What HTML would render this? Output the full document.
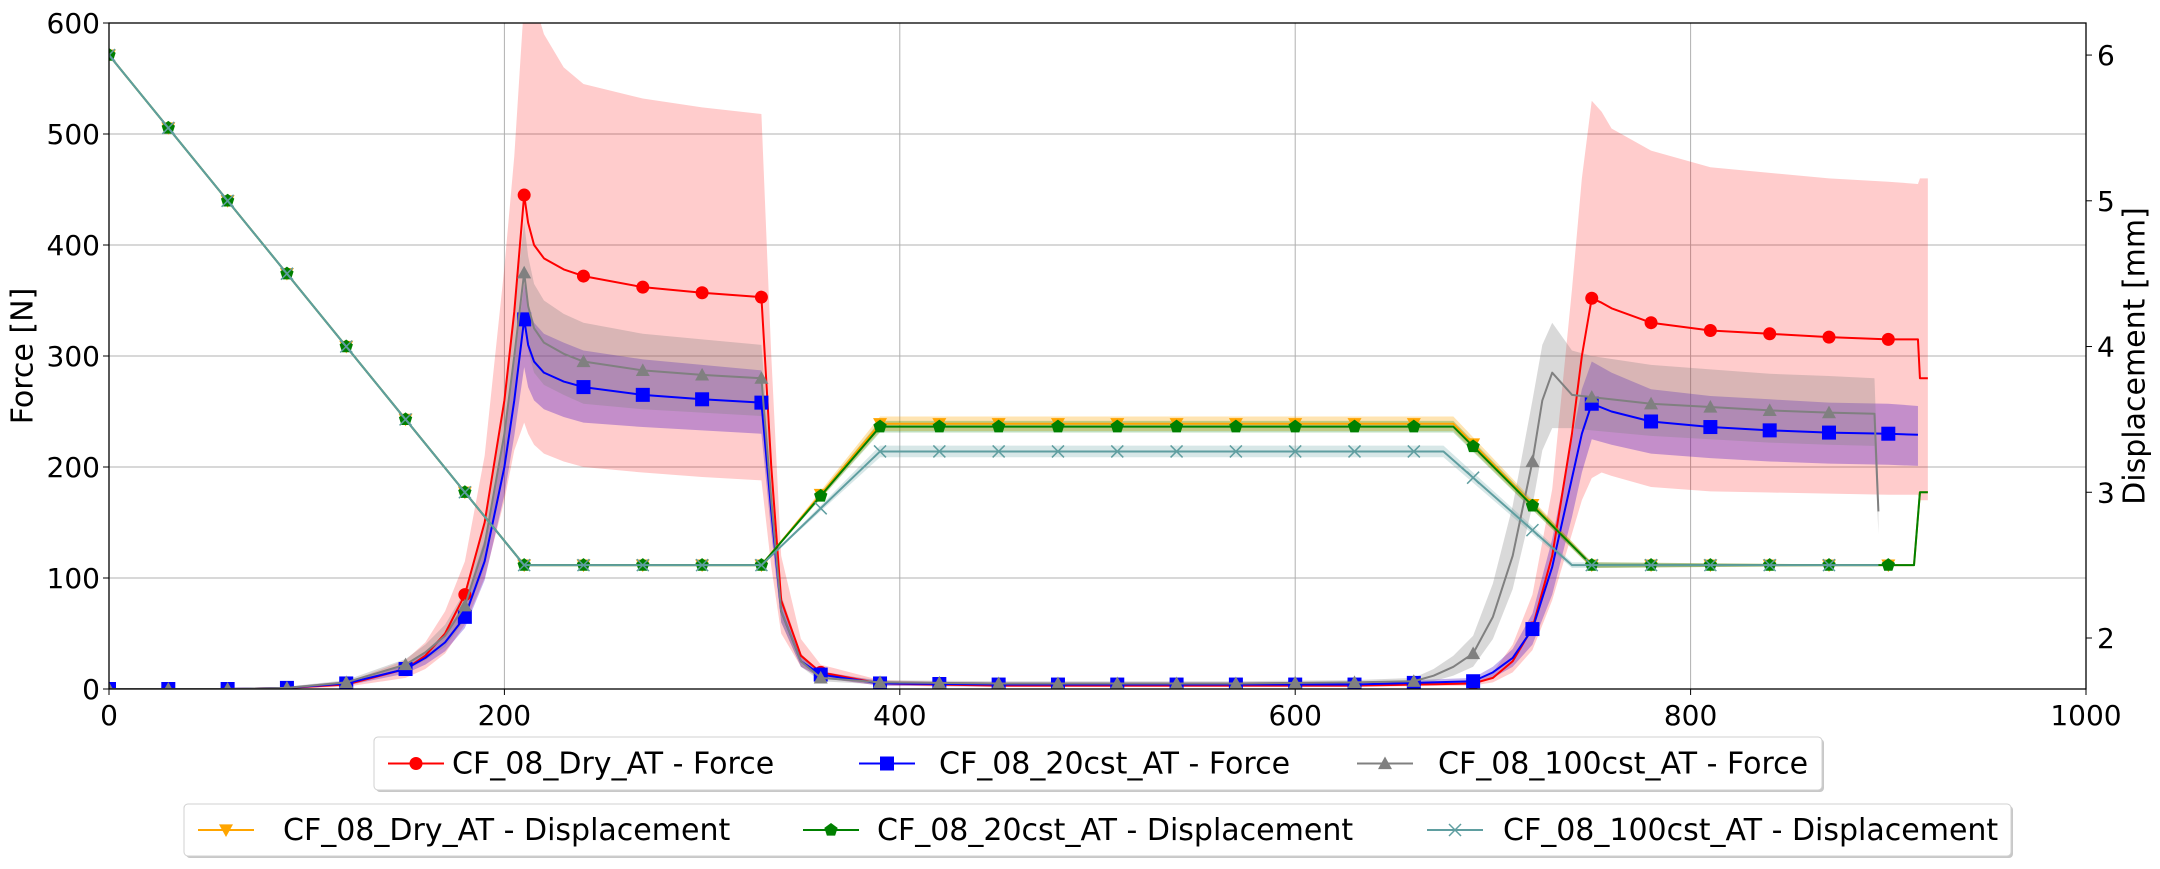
<!DOCTYPE html>
<html><head><meta charset="utf-8"><style>
html,body{margin:0;padding:0;background:#fff;}
svg text{font-family:"DejaVu Sans","Liberation Sans",sans-serif;}
</style></head><body>
<svg id="chart" width="2160" height="864" viewBox="0 0 2160 864" xmlns="http://www.w3.org/2000/svg"></svg>
<script>
// ---- data ----
const xTicks=[0,200,400,600,800,1000];
const yTicksF=[0,100,200,300,400,500,600];
const yTicksD=[2,3,4,5,6];
// Force series
const tDry=[0,30,60,90,120,150,160,170,180,190,200,205,210,212,215,220,230,240,270,300,330,335,340,350,360,390,450,510,570,630,690,700,710,720,730,740,745,750,755,760,780,810,840,870,900,915,916,920];
const fDry=[0,0,0,1,4,18,30,50,85,150,260,340,445,420,400,388,378,372,362,357,353,200,80,30,15,5,3,3,3,3,5,10,25,55,120,230,300,352,348,343,330,323,320,317,315,315,280,280];
const fDryLo=[0,0,0,0,2,10,18,32,58,100,170,215,240,230,220,212,205,200,195,191,188,110,50,20,10,3,2,2,2,2,3,6,15,35,80,140,170,190,195,192,182,178,177,176,175,175,170,170];
const fDryHi=[0,0,0,2,6,26,42,70,115,210,380,480,620,640,620,590,560,545,532,524,518,300,120,45,22,8,5,5,5,5,8,15,40,85,180,360,460,530,520,505,485,470,465,460,457,455,460,460];
const t20=[0,30,60,90,120,150,160,170,180,190,200,205,210,212,215,220,230,240,270,300,330,335,340,350,360,390,450,510,570,630,690,700,710,720,730,740,745,750,760,780,810,840,870,900,915];
const f20=[0,0,0,1,5,18,28,42,65,115,200,260,333,310,295,285,277,272,265,261,258,160,70,25,13,5,4,4,4,4,7,15,28,54,110,190,230,257,250,241,236,233,231,230,229];
const f20Lo=[0,0,0,0,3,14,22,34,55,98,175,228,290,272,260,252,245,240,236,233,230,140,60,20,10,3,2,2,2,2,4,10,20,40,85,155,195,225,220,212,208,205,203,202,201];
const f20Hi=[0,0,0,2,7,22,34,50,78,135,228,295,365,345,330,320,312,305,297,292,287,180,80,30,16,7,6,6,6,6,10,20,36,68,135,225,270,295,285,270,264,261,258,257,255];
const t100=[0,30,60,90,120,150,160,170,180,190,200,205,210,212,215,220,230,240,270,300,330,335,340,350,360,390,450,510,570,630,660,670,680,690,700,710,720,725,730,740,750,780,810,840,870,893,895];
const f100=[0,0,0,1,6,22,33,48,75,130,230,300,375,345,325,312,302,295,287,283,280,170,70,25,10,6,5,5,5,6,7,12,20,32,65,120,205,260,285,265,263,257,254,251,249,248,160];
const f100Lo=[0,0,0,0,4,17,26,38,62,110,200,262,330,305,285,274,265,257,252,249,246,150,60,20,7,4,3,3,3,4,4,7,12,20,45,90,165,215,235,235,233,228,225,222,220,219,140];
const f100Hi=[0,0,0,2,8,27,40,58,88,150,265,345,420,390,365,350,338,330,320,315,310,195,85,32,14,8,7,7,7,8,10,18,30,48,95,165,260,310,330,305,300,292,288,284,282,280,180];
// Displacement series [mm]
const tD=[0,210,330,390,680,750,913,916,920];
const dDry=[6,2.5,2.5,3.47,3.47,2.5,2.5,3.0,3.0];
const dDryHalf=[0,0,0,0.05,0.05,0.02,0,0,0];
const d20=[6,2.5,2.5,3.45,3.45,2.5,2.5,3.0,3.0];
const d20Half=[0,0,0,0.04,0.04,0.02,0,0,0];
const tD100=[0,210,330,390,675,740,893,895];
const d100=[6,2.5,2.5,3.28,3.28,2.5,2.5,2.5];
const d100Half=[0,0,0,0.04,0.04,0.02,0,0];

// ---- axes ----
const L=109,R=2086,T=23,B=689;
const X=t=>L+t*(R-L)/1000;
const YF=v=>B-v*(B-T)/600;
const YD=d=>B-(d-1.65)*(B-T)/(6.22-1.65);
const NS="http://www.w3.org/2000/svg";
const svg=document.getElementById('chart');
function el(tag,attrs,parent){const e=document.createElementNS(NS,tag);for(const k in attrs)e.setAttribute(k,attrs[k]);(parent||svg).appendChild(e);return e;}
function txt(s,attrs,parent){const e=el('text',attrs,parent);e.textContent=s;return e;}

const grid=el('g',{});


xTicks.forEach(t=>{el('line',{x1:X(t),x2:X(t),y1:T,y2:B,stroke:'#b0b0b0','stroke-width':1},grid);});
yTicksF.forEach(v=>{el('line',{x1:L,x2:R,y1:YF(v),y2:YF(v),stroke:'#b0b0b0','stroke-width':1},grid);});

const clip=el('clipPath',{id:'pc'});el('rect',{x:L,y:T,width:R-L,height:B-T},clip);
const plot=el('g',{'clip-path':'url(#pc)'});



function band(ts,lo,hi,yf,fill,name){
  let d='M'+ts.map((t,i)=>X(t)+','+yf(hi[i])).join('L');
  for(let i=ts.length-1;i>=0;i--)d+='L'+X(ts[i])+','+yf(lo[i]);
  const p=el('path',{d:d+'Z',fill:fill,stroke:'none'},plot);
  
  
}
function line(ts,vs,yf,color,name){
  const p=el('polyline',{points:ts.map((t,i)=>X(t)+','+yf(vs[i])).join(' '),fill:'none',stroke:color,'stroke-width':2,'stroke-linejoin':'round'},plot);
  
  
}
function marker(type,cx,cy,color,parent){
  const s=7;
  if(type==='o')return el('circle',{cx,cy,r:6.5,fill:color},parent);
  if(type==='s')return el('rect',{x:cx-s,y:cy-s,width:2*s,height:2*s,fill:color},parent);
  if(type==='^')return el('polygon',{points:`${cx},${cy-s} ${cx+s},${cy+s*0.8} ${cx-s},${cy+s*0.8}`,fill:color},parent);
  if(type==='v')return el('polygon',{points:`${cx},${cy+s} ${cx+s},${cy-s*0.8} ${cx-s},${cy-s*0.8}`,fill:color},parent);
  if(type==='p'){let pts=[];for(let k=0;k<5;k++){const a=-Math.PI/2+k*2*Math.PI/5;pts.push((cx+7*Math.cos(a))+','+(cy+7*Math.sin(a)));}return el('polygon',{points:pts.join(' '),fill:color},parent);}
  if(type==='x'){const g=el('g',{stroke:color,'stroke-width':1.5},parent);el('line',{x1:cx-6,y1:cy-6,x2:cx+6,y2:cy+6},g);el('line',{x1:cx-6,y1:cy+6,x2:cx+6,y2:cy-6},g);return g;}
}
function interp(ts,vs,t){for(let i=1;i<ts.length;i++){if(t<=ts[i]){const a=(t-ts[i-1])/(ts[i]-ts[i-1]);return vs[i-1]+a*(vs[i]-vs[i-1]);}}return null;}
function markers(ts,vs,yf,type,color,name){
  const g=el('g',{},plot);
  
  
  for(let t=0;t<=ts[ts.length-1];t+=30){const v=interp(ts,vs,t);if(v!==null)marker(type,X(t),yf(v),color,g);}
}
// bands
band(tDry,fDryLo,fDryHi,YF,'rgba(255,0,0,0.2)','dry-force-band');
band(t20,f20Lo,f20Hi,YF,'rgba(60,0,200,0.3)','20cst-force-band');
band(t100,f100Lo,f100Hi,YF,'rgba(128,128,128,0.3)','100cst-force-band');
band(tD,dDry.map((v,i)=>v-dDryHalf[i]),dDry.map((v,i)=>v+dDryHalf[i]),YD,'rgba(255,165,0,0.3)','dry-displacement-band');
band(tD,d20.map((v,i)=>v-d20Half[i]),d20.map((v,i)=>v+d20Half[i]),YD,'rgba(0,128,0,0.25)','20cst-displacement-band');
band(tD100,d100.map((v,i)=>v-d100Half[i]),d100.map((v,i)=>v+d100Half[i]),YD,'rgba(95,158,160,0.25)','100cst-displacement-band');
// lines
line(tDry,fDry,YF,'#ff0000','dry-force-line');markers(tDry,fDry,YF,'o','#ff0000','dry-force-markers');
line(t20,f20,YF,'#0000ff','20cst-force-line');markers(t20,f20,YF,'s','#0000ff','20cst-force-markers');
line(t100,f100,YF,'#808080','100cst-force-line');markers(t100,f100,YF,'^','#808080','100cst-force-markers');
line(tD,dDry,YD,'#ffa500','dry-displacement-line');markers(tD,dDry,YD,'v','#ffa500','dry-displacement-markers');
line(tD,d20,YD,'#008000','20cst-displacement-line');markers(tD,d20,YD,'p','#008000','20cst-displacement-markers');
line(tD100,d100,YD,'#5f9ea0','100cst-displacement-line');markers(tD100,d100,YD,'x','#5f9ea0','100cst-displacement-markers');

// frame
el('rect',{x:L,y:T,width:R-L,height:B-T,fill:'none',stroke:'#000','stroke-width':1.3});
// ticks
xTicks.forEach(t=>{el('line',{x1:X(t),x2:X(t),y1:B,y2:B+6,stroke:'#000'});const e=txt(String(t),{x:X(t),y:B+36,'font-size':28,'text-anchor':'middle'});});
yTicksF.forEach(v=>{el('line',{x1:L-6,x2:L,y1:YF(v),y2:YF(v),stroke:'#000'});const e=txt(String(v),{x:L-9,y:YF(v)+10,'font-size':28,'text-anchor':'end'});});
yTicksD.forEach(d=>{el('line',{x1:R,x2:R+6,y1:YD(d),y2:YD(d),stroke:'#000'});const e=txt(String(d),{x:R+11,y:YD(d)+10,'font-size':28});});
const yl=txt('Force [N]',{x:23,y:356,'font-size':30,'text-anchor':'middle','dominant-baseline':'central',transform:'rotate(-90 23 356)'});

const yr=txt('Displacement [mm]',{x:2135,y:356,'font-size':30,'text-anchor':'middle','dominant-baseline':'central',transform:'rotate(-90 2135 356)'});


// legends
function legend(x,y,w,h,items,name){
  const g=el('g',{});
  
  
  el('rect',{x:x+2,y:y+2,width:w,height:h,rx:4,fill:'#c8c8c8'},g);
  el('rect',{x,y,width:w,height:h,rx:4,fill:'#fff',stroke:'#d0d0d0'},g);
  items.forEach(it=>{
    const e=el('g',{},g);
    
    
    el('line',{x1:it.lx,x2:it.lx+56,y1:y+h/2,y2:y+h/2,stroke:it.c,'stroke-width':2},e);
    marker(it.m,it.lx+28,y+h/2,it.c,e);
    txt(it.label,{x:it.tx,y:y+h/2+10,'font-size':30},e);
  });
}
legend(374,737,1448,53,[
 {lx:388,tx:452,c:'#ff0000',m:'o',label:'CF_08_Dry_AT - Force'},
 {lx:859,tx:939,c:'#0000ff',m:'s',label:'CF_08_20cst_AT - Force'},
 {lx:1357,tx:1438,c:'#808080',m:'^',label:'CF_08_100cst_AT - Force'}],'legend-force');
legend(184,804,1827,52,[
 {lx:198,tx:283,c:'#ffa500',m:'v',label:'CF_08_Dry_AT - Displacement'},
 {lx:803,tx:877,c:'#008000',m:'p',label:'CF_08_20cst_AT - Displacement'},
 {lx:1427,tx:1503,c:'#5f9ea0',m:'x',label:'CF_08_100cst_AT - Displacement'}],'legend-displacement');
</script>
</body></html>
